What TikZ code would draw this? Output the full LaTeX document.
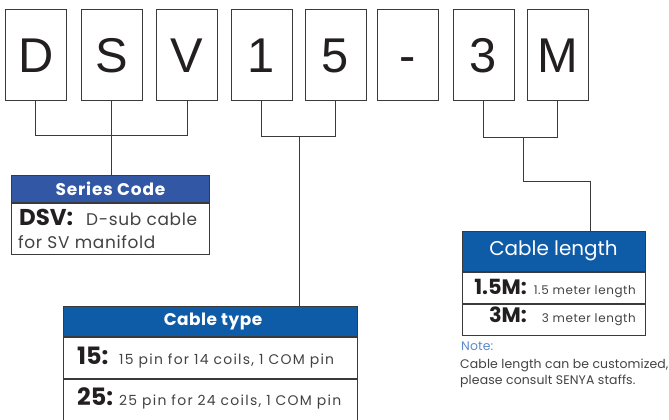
\documentclass[tikz,border=0pt]{standalone}
\usepackage{fontspec}
\setmainfont{Poppins}
\newfontfamily\boxfont{Liberation Sans}
\usetikzlibrary{positioning}

\definecolor{codeblue}{HTML}{3157A5}
\definecolor{headblue}{HTML}{0E5BA8}
\definecolor{noteblue}{HTML}{5B8AC9}
\definecolor{ink}{HTML}{231F20}
\definecolor{edge}{HTML}{3A3A3A}

\tikzset{
  letter/.style={draw=edge, line width=1bp, minimum width=61bp, minimum height=91bp,
    inner sep=0pt, text height=35bp, text depth=0pt,
    font=\boxfont\fontsize{49}{49}\selectfont, text=ink},
  head/.style={draw=edge, line width=1bp, inner sep=0pt, text=white},
  row/.style={draw=edge, line width=1bp, inner sep=0pt},
  key/.style={inner sep=0pt, text=ink, font=\bfseries\fontsize{#1}{#1}\selectfont},
  key/.default=21,
  txt/.style 2 args={inner sep=0pt, text=ink!85,
    font=\fontsize{#1}{#1}\selectfont\addfontfeature{LetterSpace=#2}},
  wire/.style={draw=edge, line width=1bp}
}

\begin{document}
\begin{tikzpicture}[x=1bp, y=-1bp]

  \useasboundingbox (0,0) rectangle (669,419);

  % code letters
  \node [letter] (d) at (35.7,54.7) {D};
  \node [letter] (s) at (111.5,54.7) {S};
  \node [letter] (v) at (187,54.7) {V};
  \node [letter] (n1) at (261.5,54.7) {1};
  \node [letter] (n5) at (335.5,54.7) {5};
  \node [letter] (dash) at (408,54.7) {-};
  \node [letter] (n3) at (483.5,54.7) {3};
  \node [letter] (m) at (557.5,54.7) {M};

  % series code
  \node [head, fill=codeblue, minimum width=197bp, minimum height=27bp,
    font=\bfseries\fontsize{17}{17}\selectfont\addfontfeature{LetterSpace=5}] (code) at (110.5,188.5) {Series Code};
  \node [row, minimum width=197bp, minimum height=51bp, below=0pt of code] (codebody) {};
  \node [key=23, anchor=base west] (dsvkey) at (19,225) {DSV:};
  \node [txt={17}{4}, anchor=base west] (dsvtxt) at (86,225) {D-sub cable};
  \node [txt={17}{4}, anchor=base west] (dsvtxt2) at (18,248) {for SV manifold};

  % cable type
  \node [head, fill=headblue, minimum width=293bp, minimum height=30bp] (type) at (210.5,321) {};
  \node [inner sep=0pt, text=white,
    font=\bfseries\fontsize{17}{17}\selectfont\addfontfeature{LetterSpace=3}] (typetxt) at (213,321) {Cable type};
  \node [row, minimum width=293bp, minimum height=41bp, below=0pt of type] (type15) {};
  \node [row, minimum width=293bp, minimum height=41bp, below=0pt of type15] (type25) {};
  \node [key=24, anchor=base west] (k15) at (77,364) {15:};
  \node [txt={14}{9}, anchor=base west] (t15) at (119,364) {15 pin for 14 coils, 1 COM pin};
  \node [key=24, anchor=base west] (k25) at (77,405) {25:};
  \node [txt={14}{9}, anchor=base west] (t25) at (119,405) {25 pin for 24 coils, 1 COM pin};

  % cable length
  \node [head, fill=headblue, minimum width=183bp, minimum height=40bp,
    font=\fontsize{20}{20}\selectfont] (len) at (553.5,251) {Cable length};
  \node [row, minimum width=183bp, minimum height=31bp, below=0pt of len] (len15) {};
  \node [row, minimum width=183bp, minimum height=31bp, below=0pt of len15] (len3) {};
  \node [key, anchor=base east] (k1m) at (527,294) {1.5M:};
  \node [txt={12}{5}, anchor=base east] (t1m) at (636,294) {1.5 meter length};
  \node [key, anchor=base east] (k3m) at (527,322) {3M:};
  \node [txt={12}{5}, anchor=base east] (t3m) at (636,322) {3 meter length};

  \node [txt={12.5}{1}, text=noteblue, anchor=base west] (note) at (461,350) {Note:};
  \node [txt={12.5}{1}, anchor=base west] (note1) at (460,368) {Cable length can be customized,};
  \node [txt={12.5}{1}, anchor=base west] (note2) at (460,384) {please consult SENYA staffs.};

  % brackets
  \coordinate (dsvbar) at (114,135);
  \coordinate (pinbar) at (299,136);
  \coordinate (lenbar) at (523,137);
  \coordinate (lenbend) at (590,181);

  \draw [wire] (d.south) -- (d.south |- dsvbar) -- (v.south |- dsvbar) -- (v.south);
  \draw [wire] (s.south) -- (s.south |- code.north);

  \draw [wire] (n1.south) -- (n1.south |- pinbar) -- (n5.south |- pinbar) -- (n5.south);
  \draw [wire] (pinbar) -- (pinbar |- type.north);

  \draw [wire] (n3.south) -- (n3.south |- lenbar) -- (m.south |- lenbar) -- (m.south);
  \draw [wire] (lenbar) |- (lenbend) -- (lenbend |- len.north);

\end{tikzpicture}
\end{document}
